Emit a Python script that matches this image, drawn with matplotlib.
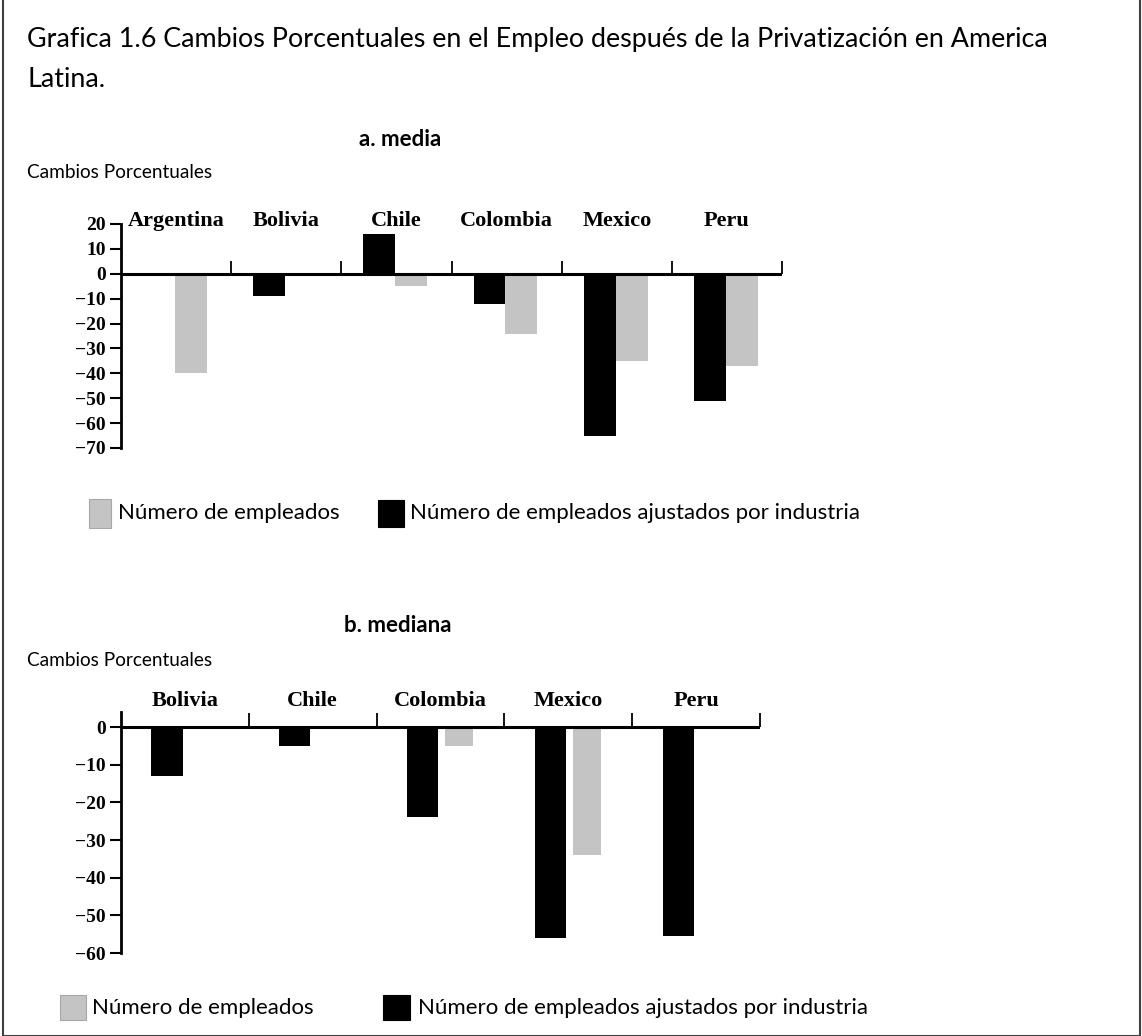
import numpy as np
import matplotlib.pyplot as plt
from matplotlib.patches import Rectangle

# panel a: media
paises_a = ['Argentina', 'Bolivia', 'Chile', 'Colombia', 'Mexico', 'Peru']
empleados_a = [-40, 0, -5, -24, -35, -37]
ajustados_a = [0, -9, 16, -12, -65, -51]
yticks_a = [20, 10, 0, -10, -20, -30, -40, -50, -60, -70]

# panel b: mediana
paises_b = ['Bolivia', 'Chile', 'Colombia', 'Mexico', 'Peru']
empleados_b = [0, 0, -5, -34, 0]
ajustados_b = [-13, -5, -24, -56, -55.5]
yticks_b = [0, -10, -20, -30, -40, -50, -60]

W, H = 1142, 1036
GRAY = '#c4c4c4'
SANS = 'Lato'
SERIF = 'Liberation Serif'

fig = plt.figure(figsize=(W / 100, H / 100), dpi=100)


def fx(px):
    return px / W


def fy(py):
    return 1 - py / H


def panel(rect, paises, emp, adj, yticks, ylim, tick_h, label_y,
          off_adj, w_adj, off_emp, w_emp):
    ax = fig.add_axes(rect)
    n = len(paises)
    x = np.arange(n)
    ax.bar(x + off_adj, adj, width=w_adj, color='black', zorder=2)
    ax.bar(x + off_emp, emp, width=w_emp, color=GRAY, zorder=2)
    ax.axhline(0, color='black', lw=2.2, zorder=3)
    # small marks between countries
    ax.vlines(np.arange(1, n + 1), 0, tick_h, color='black', lw=1.3,
              clip_on=False)
    for i, p in enumerate(paises):
        ax.text(i + 0.5, label_y, p, ha='center', va='baseline',
                family=SERIF, fontsize=16, weight='bold', clip_on=False)
    ax.set_xlim(0, n)
    ax.set_ylim(*ylim)
    for s in ['top', 'right', 'bottom']:
        ax.spines[s].set_visible(False)
    ax.spines['left'].set_linewidth(2)
    ax.set_xticks([])
    ax.set_yticks(yticks)
    ax.set_yticklabels([str(t).replace('-', '\u2212') for t in yticks],
                       family=SERIF, fontsize=14, weight='bold')
    ax.tick_params(axis='y', length=8, width=1.5, pad=3)
    ax.patch.set_alpha(0)
    return ax


# title block
fig.text(fx(27), fy(46.7), 'Grafica 1.6 Cambios Porcentuales en el Empleo después de la Privatización en America',
         family=SANS, fontsize=19.4, va='baseline', ha='left')
fig.text(fx(27), fy(86.7), 'Latina.', family=SANS, fontsize=19.4, va='baseline', ha='left')

fig.text(fx(400), fy(146), 'a. media', family=SANS, fontsize=16, weight='bold',
         ha='center', va='baseline')
fig.text(fx(27), fy(173), 'Cambios Porcentuales', family=SANS, fontsize=13.7,
         ha='left', va='center')

panel([fx(121), fy(448), fx(782) - fx(121), fy(224) - fy(448)],
      paises_a, empleados_a, ajustados_a, yticks_a, (-70, 20), 5.2, 19.3,
      0.345, 0.29, 0.635, 0.29)

fig.text(fx(398), fy(632), 'b. mediana', family=SANS, fontsize=16, weight='bold',
         ha='center', va='baseline')
fig.text(fx(27), fy(660), 'Cambios Porcentuales', family=SANS, fontsize=13.7,
         ha='left', va='center')

panel([fx(121), fy(953), fx(760) - fx(121), fy(712) - fy(953)],
      paises_b, empleados_b, ajustados_b, yticks_b, (-60, 4), 3.7, 5.6,
      0.36, 0.245, 0.645, 0.22)


# legends
def legend_item(x0, y0, w, h, color, text, tx):
    fig.add_artist(Rectangle((fx(x0), fy(y0 + h)), w / W, h / H,
                             transform=fig.transFigure, facecolor=color,
                             edgecolor='#a8a8a8' if color != 'black' else 'black',
                             lw=0.8))
    fig.text(fx(tx), fy(y0 + h / 2), text, family=SANS, fontsize=16,
             ha='left', va='center')


legend_item(89, 499, 22, 29, GRAY, 'Número de empleados', 118)
legend_item(378, 500, 26, 27, 'black', 'Número de empleados ajustados por industria', 410)
legend_item(60, 995, 26, 25, GRAY, 'Número de empleados', 92)
legend_item(383, 995, 27, 25, 'black', 'Número de empleados ajustados por industria', 418)

# page frame
fig.add_artist(Rectangle((fx(3), 0), (1140 - 3) / W, fy(3) + 0.01,
                         transform=fig.transFigure, fill=False,
                         edgecolor='#404040', lw=1.5))

fig.savefig('out.png', dpi=100)
